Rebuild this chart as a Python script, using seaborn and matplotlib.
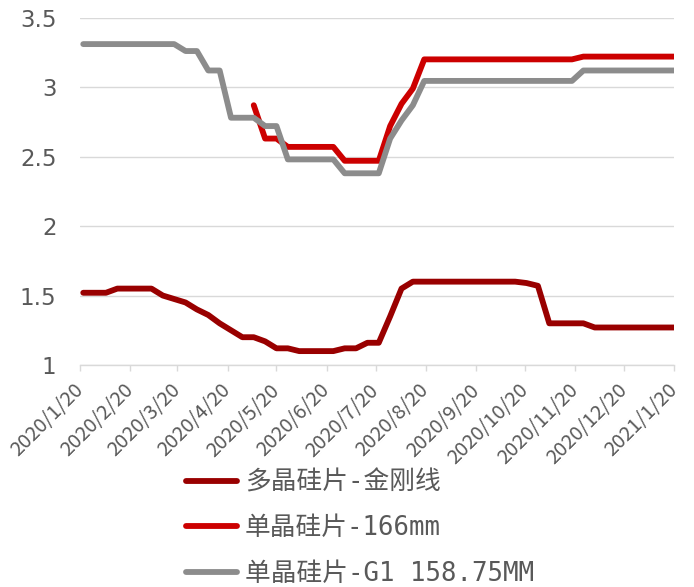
import numpy as np
import pandas as pd
import matplotlib
matplotlib.use("Agg")
import matplotlib.pyplot as plt
import seaborn as sns
from matplotlib.lines import Line2D

# ---------------- data (weekly) ----------------
dates = pd.date_range("2020-01-22", periods=53, freq="7D")

poly_diamond = [1.52, 1.52, 1.52, 1.55, 1.55, 1.55, 1.55, 1.50, 1.475, 1.45,
                1.40, 1.36, 1.30, 1.25, 1.20, 1.20, 1.17, 1.12, 1.12, 1.10,
                1.10, 1.10, 1.10, 1.12, 1.12, 1.16, 1.16, 1.35, 1.55, 1.60,
                1.60, 1.60, 1.60, 1.60, 1.60, 1.60, 1.60, 1.60, 1.60, 1.59,
                1.57, 1.30, 1.30, 1.30, 1.30, 1.27, 1.27, 1.27, 1.27, 1.27,
                1.27, 1.27, 1.27]

mono_166 = [np.nan] * 15 + [2.87, 2.63, 2.63, 2.57, 2.57, 2.57, 2.57, 2.57,
                            2.47, 2.47, 2.47, 2.47, 2.72, 2.88, 2.99,
                            3.20, 3.20, 3.20, 3.20, 3.20, 3.20, 3.20, 3.20,
                            3.20, 3.20, 3.20, 3.20, 3.20, 3.20,
                            3.22, 3.22, 3.22, 3.22, 3.22, 3.22, 3.22, 3.22, 3.22]

mono_g1 = [3.31, 3.31, 3.31, 3.31, 3.31, 3.31, 3.31, 3.31, 3.31, 3.26,
           3.26, 3.12, 3.12, 2.78, 2.78, 2.78, 2.72, 2.72, 2.48, 2.48,
           2.48, 2.48, 2.48, 2.38, 2.38, 2.38, 2.38, 2.63, 2.76, 2.87,
           3.045, 3.045, 3.045, 3.045, 3.045, 3.045, 3.045, 3.045, 3.045, 3.045,
           3.045, 3.045, 3.045, 3.045, 3.12, 3.12, 3.12, 3.12, 3.12, 3.12,
           3.12, 3.12, 3.12]

series_names = ["多晶硅片-金刚线", "单晶硅片-166mm", "单晶硅片-G1 158.75MM"]
series_colors = ["#990000", "#CC0000", "#8C8C8C"]

tick_labels = ["2020/1/20", "2020/2/20", "2020/3/20", "2020/4/20", "2020/5/20",
               "2020/6/20", "2020/7/20", "2020/8/20", "2020/9/20", "2020/10/20",
               "2020/11/20", "2020/12/20", "2021/1/20"]
tick_dates = pd.to_datetime(tick_labels, format="%Y/%m/%d")
y_ticks = [1, 1.5, 2, 2.5, 3, 3.5]
y_tick_labels = ["1", "1.5", "2", "2.5", "3", "3.5"]

df = pd.DataFrame({"date": dates, series_names[0]: poly_diamond,
                   series_names[1]: mono_166, series_names[2]: mono_g1})
long = df.melt(id_vars="date", var_name="series", value_name="price").dropna()

# ---------------- plot ----------------
sns.set_theme(style="white")
plt.rcParams["font.family"] = ["DejaVu Sans Mono", "Noto Sans CJK SC", "DejaVu Sans"]

fig = plt.figure(figsize=(6.94, 5.87), dpi=100)
ax = fig.add_axes([80 / 694, 1 - 365 / 587, (674.3 - 80) / 694, (365 - 17.7) / 587])

sns.lineplot(data=long, x="date", y="price", hue="series", hue_order=series_names,
             palette=series_colors, linewidth=4.2, ax=ax, legend=False,
             estimator=None, sort=True)
for ln in ax.get_lines():
    ln.set_solid_capstyle("round")
    ln.set_solid_joinstyle("round")

ax.set_xticks(tick_dates)
ax.set_xticklabels(tick_labels, rotation=45, ha="right", va="center",
                   rotation_mode="anchor", color="#595959", fontsize=14.5,
                   family=["Noto Sans CJK SC", "DejaVu Sans"])
ax.set_xlim(pd.Timestamp("2020-01-20"), pd.Timestamp("2021-01-20"))
ax.set_ylim(1, 3.5)
ax.set_yticks(y_ticks)
ax.set_yticklabels(y_tick_labels, color="#595959", fontsize=16.5,
                   family=["DejaVu Sans"])
ax.set_xlabel("")
ax.set_ylabel("")

ax.yaxis.grid(True, color="#D9D9D9", linewidth=1.0)
ax.xaxis.grid(False)
for s in ["top", "right", "left"]:
    ax.spines[s].set_visible(False)
ax.spines["bottom"].set_color("#D9D9D9")
ax.spines["bottom"].set_linewidth(1.0)
ax.tick_params(axis="x", which="major", direction="out", length=4, width=1,
               color="#D9D9D9", pad=12, bottom=True)
ax.tick_params(axis="y", length=0, pad=17)

handles = [Line2D([0], [0], color=c, linewidth=4.2, solid_capstyle="round")
           for c in series_colors]
leg = fig.legend(handles, series_names, loc="upper left",
                 bbox_to_anchor=(186 / 694, 1 - 470 / 587),
                 frameon=False, fontsize=18.5, handlelength=2.0,
                 handletextpad=0.3, labelspacing=0.75, borderpad=0,
                 borderaxespad=0)
for t in leg.get_texts():
    t.set_color("#595959")

fig.savefig("out.png", dpi=100)
